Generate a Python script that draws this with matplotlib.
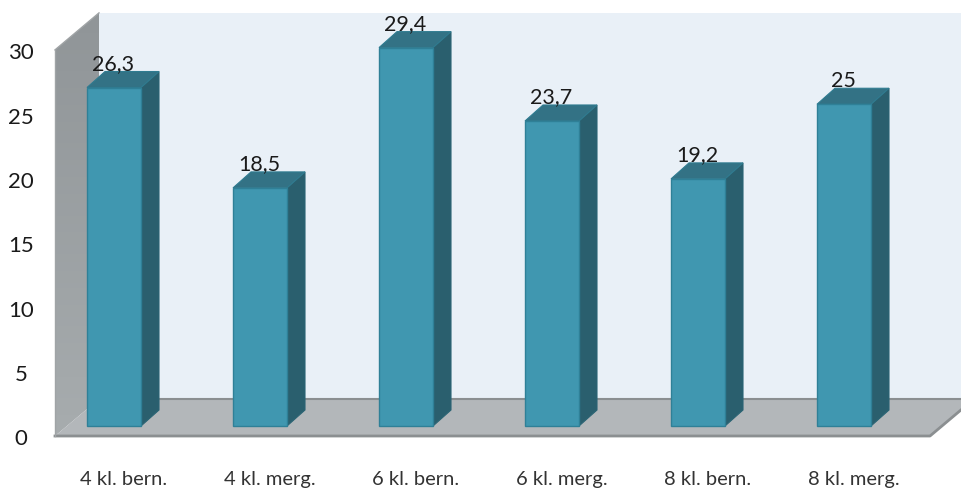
import numpy as np
import matplotlib
matplotlib.use("Agg")
import matplotlib.pyplot as plt
from matplotlib.patches import Polygon

categories = ['4 kl. bern.', '4 kl. merg.', '6 kl. bern.', '6 kl. merg.', '8 kl. bern.', '8 kl. merg.']
values = [26.3, 18.5, 29.4, 23.7, 19.2, 25]
value_labels = ['26,3', '18,5', '29,4', '23,7', '19,2', '25']
y_ticks = [0, 5, 10, 15, 20, 25, 30]

plt.rcParams['font.family'] = ['Lato', 'DejaVu Sans']

# one unit on each axis, in pixels of the 961x489 picture
PX_X = 146.0
PX_Y = 12.87
dx = 1 / PX_X
dy = 1 / PX_Y

fig = plt.figure(figsize=(9.61, 4.89), dpi=100)
ax = fig.add_axes([0, 0, 1, 1])
ax.axis('off')

# the 3d box: front plane sits 10 px below the bars, depth goes up and right
floor_y = -10 * dy
left_x = -59 * dx
right_x = 816 * dx
depth_x = 44 * dx
depth_y = 37 * dy
top = 30 * 1.0 + floor_y

# back wall
ax.add_patch(Polygon([(left_x + depth_x, floor_y + depth_y), (left_x + depth_x, top + depth_y),
                      (right_x + depth_x, top + depth_y), (right_x + depth_x, floor_y + depth_y)],
                     facecolor='#e9f0f7', edgecolor='none', zorder=1))

# left wall with a soft gradient
wall = Polygon([(left_x, floor_y), (left_x, top), (left_x + depth_x, top + depth_y),
                (left_x + depth_x, floor_y + depth_y)], facecolor='none', edgecolor='none', zorder=2)
ax.add_patch(wall)
grad = np.linspace(0, 1, 100).reshape(-1, 1)
cmap = matplotlib.colors.LinearSegmentedColormap.from_list('wall', ['#a7acae', '#909598'])
im = ax.imshow(grad, origin='lower', aspect='auto', cmap=cmap, zorder=2,
               extent=[left_x, left_x + depth_x, floor_y, top + depth_y])
im.set_clip_path(wall)

# floor
ax.add_patch(Polygon([(left_x, floor_y), (left_x + depth_x, floor_y + depth_y),
                      (right_x + depth_x, floor_y + depth_y), (right_x, floor_y)],
                     facecolor='#b3b7ba', edgecolor='none', zorder=3))
ax.plot([left_x + depth_x, right_x + depth_x], [floor_y + depth_y] * 2, color='#8b8f91', lw=1.5, zorder=3)
ax.plot([left_x, right_x, right_x + depth_x], [floor_y, floor_y, floor_y + depth_y],
        color='#8b8f91', lw=2, zorder=3)
ax.plot([left_x, left_x + depth_x], [top, top + depth_y], color='#a0a4a6', lw=1, zorder=3)
ax.plot([left_x, left_x], [floor_y, top], color='#a0a4a6', lw=1, zorder=3)

# bars
bar_w = 54 * dx
bar_dx = 18 * dx
bar_dy = 16 * dy
xs = np.arange(len(values))
for x, v in zip(xs, values):
    l = x - bar_w / 2
    r = x + bar_w / 2
    ax.add_patch(Polygon([(r, 0), (r + bar_dx, bar_dy), (r + bar_dx, v + bar_dy), (r, v)],
                         facecolor='#2a5f6e', edgecolor='#2b6474', lw=0.8, zorder=4))
    ax.add_patch(Polygon([(l, v), (l + bar_dx, v + bar_dy), (r + bar_dx, v + bar_dy), (r, v)],
                         facecolor='#337285', edgecolor='#2f7b90', lw=0.8, zorder=4))
ax.bar(xs, values, width=bar_w, color='#4097b0', edgecolor='#2f8097', linewidth=1, zorder=5)

# labels
for x, v, lab in zip(xs, values, value_labels):
    ax.annotate(lab, (x, v), xytext=(-0.5, 13.5), textcoords='offset points', ha='center', va='baseline',
                fontsize=15.5, color='#1a1a1a', zorder=6)
for t in y_ticks:
    ax.text(left_x - 34 * dx, t + floor_y - 2.5 * dy, str(t), ha='center', va='center', fontsize=16, color='#1a1a1a', zorder=6)
for x, lab in zip(xs, categories):
    ax.text(x + 10 * dx, -52.5 * dy, lab, ha='center', va='center', fontsize=14.5, color='#333333', zorder=6)

ax.set_xlim(-114 * dx, 847 * dx)
ax.set_ylim(-62 * dy, 427 * dy)

fig.savefig('out.png', dpi=100)
